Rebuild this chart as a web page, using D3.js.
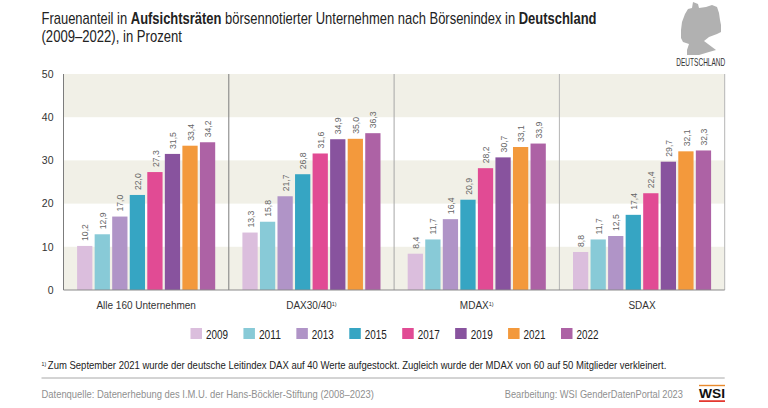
<!DOCTYPE html>
<html lang="de">
<head>
<meta charset="utf-8">
<script src="https://cdn.jsdelivr.net/npm/d3@7"></script>
<style>
  html, body { margin: 0; padding: 0; background: #fff; }
  svg { display: block; }
  text { font-family: "Liberation Sans", Arial, sans-serif; }
</style>
</head>
<body>
<div id="chart"></div>
<script>
// Frauenanteil in Aufsichtsraeten, small multiples by stock index.
const years = ["2009", "2011", "2013", "2015", "2017", "2019", "2021", "2022"];
const yearColors = ["#dbbedd", "#88cad7", "#b094c7", "#36a5c3", "#e14b94", "#88539e", "#f3993c", "#ad62a5"];

const panels = ["Alle 160 Unternehmen", "DAX30/40", "MDAX", "SDAX"];
const panelNotes = ["", "1)", "1)", ""];

const alleValues = [10.2, 12.9, 17.0, 22.0, 27.3, 31.5, 33.4, 34.2];
const daxValues = [13.3, 15.8, 21.7, 26.8, 31.6, 34.9, 35.0, 36.3];
const mdaxValues = [8.4, 11.7, 16.4, 20.9, 28.2, 30.7, 33.1, 33.9];
const sdaxValues = [8.8, 11.7, 12.5, 17.4, 22.4, 29.7, 32.1, 32.3];
const panelValues = [alleValues, daxValues, mdaxValues, sdaxValues];

const yTicks = [0, 10, 20, 30, 40, 50];
const stripes = [[0, 10], [20, 30], [40, 50]];

// rough outline of Germany for the locator in the corner
const germanyOutline = [
  [693, 2], [698, 4], [699, 8], [706, 7], [712, 5], [717, 7], [719, 13], [720, 20], [721, 25], [721, 32],
  [717, 34], [709, 37], [704, 41], [708, 44], [712, 47], [716, 50], [709, 52], [699, 55], [687, 55],
  [687, 50], [689, 44], [683, 42], [681, 38], [681, 30], [682, 22], [685, 14], [688, 9], [692, 8]
];

const W = 768;
const H = 408;
const PLOT = { top: 74, bottom: 290, left: 63.5, right: 724.7 };

const d3de = d3.formatLocale({ decimal: ",", thousands: ".", grouping: [3], currency: ["", " €"] });
const fmt = d3de.format(".1f");

const svg = d3.select("#chart").append("svg").attr("width", W).attr("height", H).attr("viewBox", [0, 0, W, H]);

const y = d3.scaleLinear().domain([0, 50]).range([PLOT.bottom, PLOT.top]);
const panelX = d3.scaleBand().domain(panels).range([PLOT.left, PLOT.right]);
const barX = d3.scaleBand().domain(years).range([13.6, panelX.bandwidth() - 13.6]).paddingInner(0.13);
const color = d3.scaleOrdinal().domain(years).range(yearColors);

// no condensed face is installed, so the narrow texts get squeezed to their measured width
function narrowText(parent, x, yPos, width, size, fill) {
  const text = parent.append("text").attr("fill", fill).style("font-size", `${size}px`);
  text.fit = () => {
    const k = width / text.node().getComputedTextLength();
    text.attr("transform", `translate(${x},${yPos}) scale(${k},1)`);
    return text;
  };
  return text;
}

// title
const line1 = narrowText(svg, 41.5, 24, 555.5, 16, "#222");
line1.append("tspan").text("Frauenanteil in ");
line1.append("tspan").attr("font-weight", "bold").text("Aufsichtsräten");
line1.append("tspan").text(" börsennotierter Unternehmen nach Börsenindex in ");
line1.append("tspan").attr("font-weight", "bold").text("Deutschland");
line1.fit();
narrowText(svg, 41.5, 42, 140.5, 16, "#222").text("(2009–2022), in Prozent").fit();

// locator map
svg.append("path")
  .attr("d", d3.line().curve(d3.curveLinearClosed)(germanyOutline))
  .attr("fill", "#b1b1b1");
narrowText(svg, 676.3, 66, 49, 10.5, "#333").text("DEUTSCHLAND").fit();

// background stripes
svg.append("g").selectAll("rect").data(stripes).join("rect")
  .attr("x", PLOT.left).attr("width", PLOT.right - PLOT.left)
  .attr("y", (d) => y(d[1])).attr("height", (d) => y(d[0]) - y(d[1]))
  .attr("fill", "#f1f0e7");

// y axis
const yAxis = svg.append("g").attr("transform", `translate(${PLOT.left},0)`)
  .call(d3.axisLeft(y).tickValues(yTicks).tickSize(0).tickPadding(10))
  .call((g) => g.select(".domain").remove());
yAxis.selectAll("text").attr("fill", "#333").style("font-size", "10.5px");

panels.forEach((panel, i) => {
  const facet = svg.append("g").attr("transform", `translate(${panelX(panel)},0)`);
  const rows = years.map((year, k) => ({ year, value: panelValues[i][k] }));

  facet.selectAll("rect.bar").data(rows).join("rect")
    .attr("class", "bar")
    .attr("x", (d) => barX(d.year))
    .attr("width", barX.bandwidth())
    .attr("y", (d) => y(d.value))
    .attr("height", (d) => y(0) - y(d.value))
    .attr("fill", (d) => color(d.year));

  facet.selectAll("text.value").data(rows).join("text")
    .attr("class", "value")
    .attr("transform", (d) => `translate(${barX(d.year) + barX.bandwidth() / 2 + 3.6},${y(d.value) - 5}) rotate(-90) scale(0.88,1)`)
    .attr("fill", "#666")
    .style("font-size", "9.8px")
    .text((d) => fmt(d.value));

  const label = facet.append("text")
    .attr("x", panelX.bandwidth() / 2).attr("y", 309).attr("text-anchor", "middle")
    .attr("fill", "#333").style("font-size", "10px");
  label.append("tspan").text(panel);
  if (panelNotes[i]) {
    label.append("tspan").attr("dy", -3).style("font-size", "5.5px").text(panelNotes[i]);
  }
});

// panel frame lines
svg.append("g").selectAll("line").data([0, 1, 2, 3, 4]).join("line")
  .attr("x1", (d, i) => (i < 4 ? panelX(panels[i]) : PLOT.right))
  .attr("x2", (d, i) => (i < 4 ? panelX(panels[i]) : PLOT.right))
  .attr("y1", PLOT.top).attr("y2", PLOT.bottom)
  .attr("stroke", (d) => (d < 2 ? "#7c7c7c" : d < 3 ? "#a6a6a6" : "#b5b5b5"))
  .attr("stroke-width", 1);
svg.append("line").attr("x1", PLOT.left).attr("x2", PLOT.right).attr("y1", y(0)).attr("y2", y(0))
  .attr("stroke", "#8a8a8a").attr("stroke-width", 1);

// legend
const legendX = d3.scalePoint().domain(years).range([190.5, 561]);
const legend = svg.append("g").selectAll("g").data(years).join("g")
  .attr("transform", (d) => `translate(${legendX(d)},328)`);
legend.append("rect").attr("width", 11.5).attr("height", 11).attr("fill", (d) => color(d));
legend.each(function (d) {
  narrowText(d3.select(this), 15.5, 10.5, 22, 13.5, "#222").text(d).fit();
});

// footnote, rule, source
const note = narrowText(svg, 41.5, 369, 624.5, 11, "#222");
note.append("tspan").attr("dy", -3).style("font-size", "6px").text("1)");
note.append("tspan").attr("dy", 3).attr("dx", 2)
  .text("Zum September 2021 wurde der deutsche Leitindex DAX auf 40 Werte aufgestockt. Zugleich wurde der MDAX von 60 auf 50 Mitglieder verkleinert.");
note.fit();

svg.append("line").attr("x1", 41.5).attr("x2", PLOT.right).attr("y1", 378).attr("y2", 378)
  .attr("stroke", "#a8a8a8").attr("stroke-width", 1);

narrowText(svg, 41.5, 398, 332.5, 11, "#8f8f8f")
  .text("Datenquelle: Datenerhebung des I.M.U. der Hans-Böckler-Stiftung (2008–2023)").fit();
narrowText(svg, 504.7, 398, 178.6, 11, "#8f8f8f")
  .text("Bearbeitung: WSI GenderDatenPortal 2023").fit();

// WSI logo
svg.append("rect").attr("x", 699).attr("y", 384.8).attr("width", 26).attr("height", 1.4).attr("fill", "#e8892b");
svg.append("rect").attr("x", 699).attr("y", 400.3).attr("width", 26).attr("height", 1.6).attr("fill", "#e2231a");
narrowText(svg, 699, 398, 26, 13, "#111").attr("font-weight", "bold").text("WSI").fit();
</script>
</body>
</html>
